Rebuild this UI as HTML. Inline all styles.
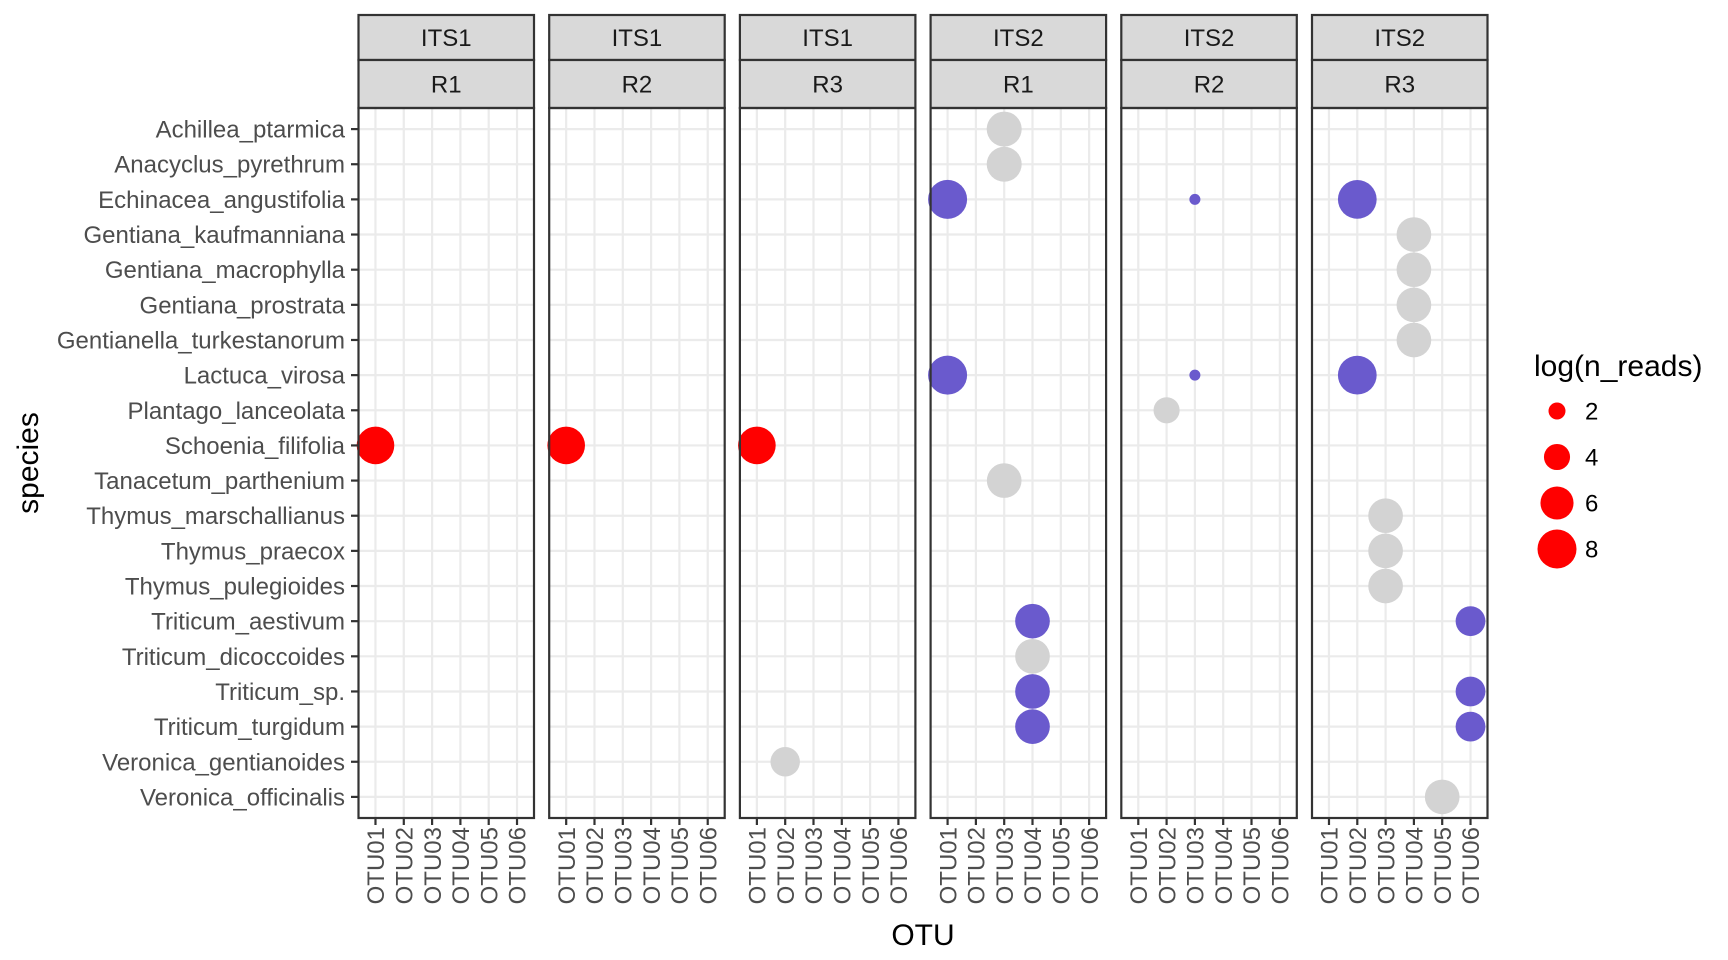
<!DOCTYPE html>
<html><head><meta charset="utf-8"><style>
html,body{margin:0;padding:0;background:#fff;}
svg{display:block;font-family:"Liberation Sans",sans-serif;}
</style></head><body>
<svg id="chart" width="1728" height="960" viewBox="0 0 1728 960"></svg>
<script>
const species = ["Achillea_ptarmica","Anacyclus_pyrethrum","Echinacea_angustifolia","Gentiana_kaufmanniana","Gentiana_macrophylla","Gentiana_prostrata","Gentianella_turkestanorum","Lactuca_virosa","Plantago_lanceolata","Schoenia_filifolia","Tanacetum_parthenium","Thymus_marschallianus","Thymus_praecox","Thymus_pulegioides","Triticum_aestivum","Triticum_dicoccoides","Triticum_sp.","Triticum_turgidum","Veronica_gentianoides","Veronica_officinalis"];
const otus = ["OTU01","OTU02","OTU03","OTU04","OTU05","OTU06"];
const markers = ["ITS1","ITS1","ITS1","ITS2","ITS2","ITS2"];
const reps = ["R1","R2","R3","R1","R2","R3"];
const legendValues = [2,4,6,8];
const ptPanel   = [0,1,2,2,3,3,3,3,3,3,3,3,3,4,4,4,5,5,5,5,5,5,5,5,5,5,5,5,5];
const ptSpecies = ["Schoenia_filifolia","Schoenia_filifolia","Schoenia_filifolia","Veronica_gentianoides","Achillea_ptarmica","Anacyclus_pyrethrum","Echinacea_angustifolia","Lactuca_virosa","Tanacetum_parthenium","Triticum_aestivum","Triticum_dicoccoides","Triticum_sp.","Triticum_turgidum","Echinacea_angustifolia","Lactuca_virosa","Plantago_lanceolata","Echinacea_angustifolia","Lactuca_virosa","Gentiana_kaufmanniana","Gentiana_macrophylla","Gentiana_prostrata","Gentianella_turkestanorum","Thymus_marschallianus","Thymus_praecox","Thymus_pulegioides","Triticum_aestivum","Triticum_sp.","Triticum_turgidum","Veronica_officinalis"];
const ptOtu     = ["OTU01","OTU01","OTU01","OTU02","OTU03","OTU03","OTU01","OTU01","OTU03","OTU04","OTU04","OTU04","OTU04","OTU03","OTU03","OTU02","OTU02","OTU02","OTU04","OTU04","OTU04","OTU04","OTU03","OTU03","OTU03","OTU06","OTU06","OTU06","OTU05"];
const ptValue   = [7.5,7.5,7.5,4.9,6.6,6.6,8,8,6.5,6.5,6.5,6.5,6.5,1.06,1.06,4,7.9,7.9,6.5,6.5,6.5,6.5,6.5,6.5,6.5,5,5,5,6.5];
const ptColor   = ["red","red","red","grey","grey","grey","blue","blue","grey","blue","grey","blue","blue","blue","blue","grey","blue","blue","grey","grey","grey","grey","grey","grey","grey","blue","blue","blue","grey"];
const colorMap = {red:"#FF0000",blue:"#6A5ACD",grey:"#D3D3D3"};

const NS="http://www.w3.org/2000/svg";
const svg=document.getElementById('chart');
function mk(tag,attrs,parent){const e=document.createElementNS(NS,tag);for(const k in attrs)e.setAttribute(k,attrs[k]);(parent||svg).appendChild(e);return e;}
const panelLeft0=358.5, panelStep=190.7, panelW=175.5, pTop=108, pBottom=818, stripTop=15, stripMid=60;
const FS=24, TFS=30;
const xScale=(p,o)=>panelLeft0+p*panelStep+panelW*(0.6+otus.indexOf(o))/(otus.length-1+1.2);
const yScale=s=>pTop+(pBottom-pTop)*(0.6+species.indexOf(s))/(species.length-1+1.2);
const dScale=v=>Math.max(2,-5+15.56*Math.sqrt(v));

for(let p=0;p<6;p++){
  const L=panelLeft0+p*panelStep;
  const g=mk('g',{});
  
  
  mk('rect',{x:L,y:pTop,width:panelW,height:pBottom-pTop,fill:'#fff'},g);
  species.forEach(s=>{const l=mk('line',{x1:L,x2:L+panelW,y1:yScale(s),y2:yScale(s),stroke:'#EBEBEB','stroke-width':2.2},g);
    });
  otus.forEach(o=>{const x=xScale(p,o);const l=mk('line',{x1:x,x2:x,y1:pTop,y2:pBottom,stroke:'#EBEBEB','stroke-width':2.2},g);
    
    const t=mk('line',{x1:x,x2:x,y1:pBottom,y2:pBottom+7,stroke:'#333','stroke-width':2.2},g);
    
    const tx=mk('text',{x:0,y:0,transform:`translate(${x+8.7},${pBottom+9}) rotate(-90)`,'text-anchor':'end','font-size':FS,fill:'#4D4D4D'},g);
    tx.textContent=o;});
  [[stripTop,stripMid,markers[p],'strip-marker'],[stripMid,pTop,reps[p],'strip-rep']].forEach(([a,b,lab,nm])=>{
    const r=mk('rect',{x:L,y:a,width:panelW,height:b-a,fill:'#D9D9D9',stroke:'#333','stroke-width':2.2},g);
    
    const t=mk('text',{x:L+panelW/2,y:(a+b)/2+8.5,'text-anchor':'middle','font-size':FS,fill:'#1A1A1A'},g);
    t.textContent=lab;});
}
for(let i=0;i<ptValue.length;i++){
  const c=mk('circle',{cx:xScale(ptPanel[i],ptOtu[i]),cy:yScale(ptSpecies[i]),r:dScale(ptValue[i])/2,fill:colorMap[ptColor[i]]});
  
  
}
for(let p=0;p<6;p++){const L=panelLeft0+p*panelStep;
  const b=mk('rect',{x:L,y:pTop,width:panelW,height:pBottom-pTop,fill:'none',stroke:'#333','stroke-width':2.2});
  }
species.forEach(s=>{const y=yScale(s);
  const t=mk('line',{x1:351,x2:358.5,y1:y,y2:y,stroke:'#333','stroke-width':2.2});
  
  const tx=mk('text',{x:345,y:y+8.5,'text-anchor':'end','font-size':FS,fill:'#4D4D4D'});
  tx.textContent=s;});
let t=mk('text',{x:923,y:945,'text-anchor':'middle','font-size':TFS,fill:'#000'});t.textContent='OTU';

t=mk('text',{x:0,y:0,transform:'translate(38,463) rotate(-90)','text-anchor':'middle','font-size':TFS,fill:'#000'});t.textContent='species';

t=mk('text',{x:1534,y:376,'font-size':TFS,fill:'#000'});t.textContent='log(n_reads)';

legendValues.forEach((v,i)=>{const y=411+i*46;
  const c=mk('circle',{cx:1557,cy:y,r:dScale(v)/2,fill:'#FF0000'});
  
  const tx=mk('text',{x:1585,y:y+8.5,'font-size':FS,fill:'#000'});tx.textContent=v;
  });
</script>
</body></html>
